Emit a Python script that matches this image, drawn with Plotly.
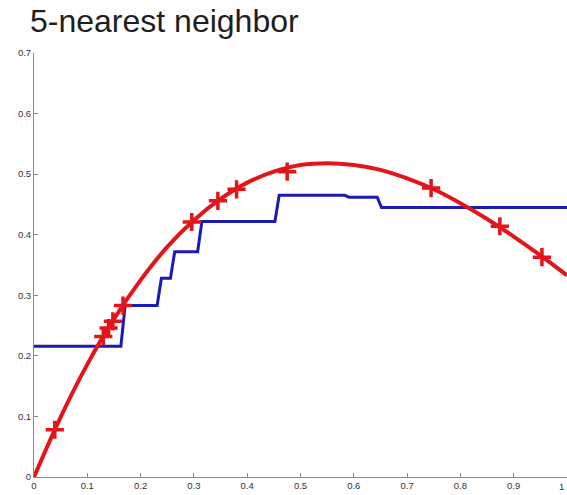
import plotly.graph_objects as go

# True function, sampled along x
curve_x = [0.0, 0.05, 0.10, 0.15, 0.20, 0.25, 0.30, 0.35, 0.40, 0.45, 0.50,
           0.55, 0.60, 0.65, 0.70, 0.75, 0.80, 0.85, 0.90, 0.95, 1.0]
curve_y = [0.0, 0.099, 0.186, 0.261, 0.325, 0.380, 0.424, 0.459, 0.486, 0.504, 0.515,
           0.518, 0.515, 0.507, 0.493, 0.475, 0.452, 0.426, 0.397, 0.366, 0.333]

# Training samples
sample_x = [0.039, 0.130, 0.140, 0.148, 0.167, 0.296, 0.345, 0.380, 0.475, 0.745, 0.874, 0.953]
sample_y = [0.078, 0.232, 0.246, 0.257, 0.283, 0.421, 0.456, 0.475, 0.504, 0.477, 0.414, 0.363]

# 5-nearest-neighbour prediction: piecewise constant levels between edges
knn_edges = [0.0, 0.167, 0.235, 0.260, 0.311, 0.456, 0.587, 0.648, 1.0]
knn_levels = [0.216, 0.283, 0.328, 0.372, 0.422, 0.465, 0.462, 0.445]

tick_x = [0, 0.1, 0.2, 0.3, 0.4, 0.5, 0.6, 0.7, 0.8, 0.9, 1]
tick_x_text = ["0", "0.1", "0.2", "0.3", "0.4", "0.5", "0.6", "0.7", "0.8", "0.9", "1"]
tick_y = [0, 0.1, 0.2, 0.3, 0.4, 0.5, 0.6, 0.7]
tick_y_text = ["0", "0.1", "0.2", "0.3", "0.4", "0.5", "0.6", "0.7"]

# Build the step polyline (short ramps, as on an evaluation grid)
ramp = 0.004
step_x, step_y = [], []
for i, level in enumerate(knn_levels):
    x0 = knn_edges[i] + (ramp if i > 0 else 0.0)
    x1 = knn_edges[i + 1] - (ramp if i < len(knn_levels) - 1 else 0.0)
    step_x += [x0, x1]
    step_y += [level, level]

RED = "#e3141a"
BLUE = "#1a1ab8"
TICK_FONT = dict(family="Liberation Sans, Arial, sans-serif", size=9.5, color="#333333")

fig = go.Figure()
fig.add_trace(go.Scatter(x=step_x, y=step_y, mode="lines",
                         line=dict(color=BLUE, width=3), showlegend=False))
fig.add_trace(go.Scatter(x=curve_x, y=curve_y, mode="lines", line_shape="spline",
                         line=dict(color=RED, width=4), showlegend=False))
fig.add_trace(go.Scatter(x=sample_x, y=sample_y, mode="markers",
                         marker=dict(symbol="cross-thin", size=13,
                                     line=dict(color=RED, width=3.5)),
                         showlegend=False))

fig.update_xaxes(range=[0, 1.0], tickvals=tick_x, ticktext=tick_x_text,
                 showgrid=False, zeroline=False, showline=True, linecolor="#8a8a8a",
                 linewidth=1, ticks="inside", ticklen=4, tickcolor="#8a8a8a",
                 tickfont=TICK_FONT)
fig.update_yaxes(range=[0, 0.7], tickvals=tick_y, ticktext=tick_y_text,
                 showgrid=False, zeroline=False, showline=True, linecolor="#8a8a8a",
                 linewidth=1, ticks="inside", ticklen=4, tickcolor="#8a8a8a",
                 tickfont=TICK_FONT)

fig.update_layout(
    width=567, height=495,
    margin=dict(l=34, r=0, t=53, b=18),
    paper_bgcolor="white", plot_bgcolor="white",
    annotations=[
        dict(text="5-nearest neighbor", xref="paper", yref="paper",
             x=-0.012, y=1.0, xanchor="left", yanchor="bottom", yshift=12,
             showarrow=False,
             font=dict(family="Liberation Sans, Arial, sans-serif",
                       size=32, color="#1e1e1e")),
        # last x tick label sits on the page edge, so keep it just inside
        dict(text=tick_x_text[-1], xref="x", yref="paper",
             x=tick_x[-1], y=0, yanchor="top", xanchor="right", yshift=-2,
             xshift=-1, showarrow=False, font=TICK_FONT),
    ],
)

fig.write_html("out.html")
